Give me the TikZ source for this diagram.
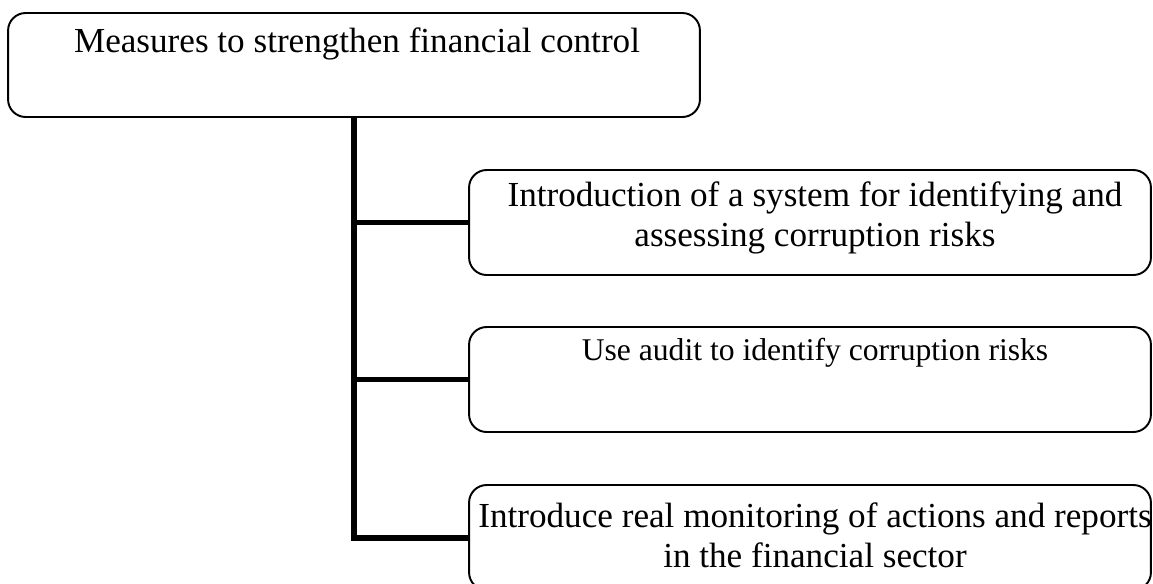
\documentclass[tikz,border=0pt]{standalone}
\usepackage{fontspec}
\setmainfont{Liberation Serif}
\usetikzlibrary{positioning}

\begin{document}
\begin{tikzpicture}[x=0.02cm,y=-0.02cm,
    every node/.style={font=\fontsize{20}{23}\selectfont},
    box/.style={draw, line width=1.1pt, rounded corners=10pt, inner sep=0pt},
    trunk/.style={line width=3.4pt}]
    \clip (0,0) rectangle (1153,583);
    % boxes
    \node[box, minimum width=13.84cm, minimum height=2.08cm] (top) at (354,65) {};
    \node[box, minimum width=13.64cm, minimum height=2.1cm] (b1) at (810,222.5) {};
    \node[box, minimum width=13.64cm, minimum height=2.1cm] (b2) at (810,379.5) {};
    \node[box, minimum width=13.64cm, minimum height=2.1cm] (b3) at (810,537.5) {};
    % texts
    \node (topt) at (357,44) {Measures to strengthen financial control};
    \node[align=center] (b1t) at (815,218) {Introduction of a system for identifying and\\assessing corruption risks};
    \node[font=\fontsize{18}{21}\selectfont] (b2t) at (815,353) {Use audit to identify corruption risks};
    \node[align=center] (b3t) at (815,535) {Introduce real monitoring of actions and reports\\in the financial sector};
    % connectors
    \draw[trunk] (top.south) |- (b3.west);
    \draw[trunk] (top.south |- b1.west) -- (b1.west);
    \draw[trunk] (top.south |- b2.west) -- (b2.west);
\end{tikzpicture}
\end{document}
